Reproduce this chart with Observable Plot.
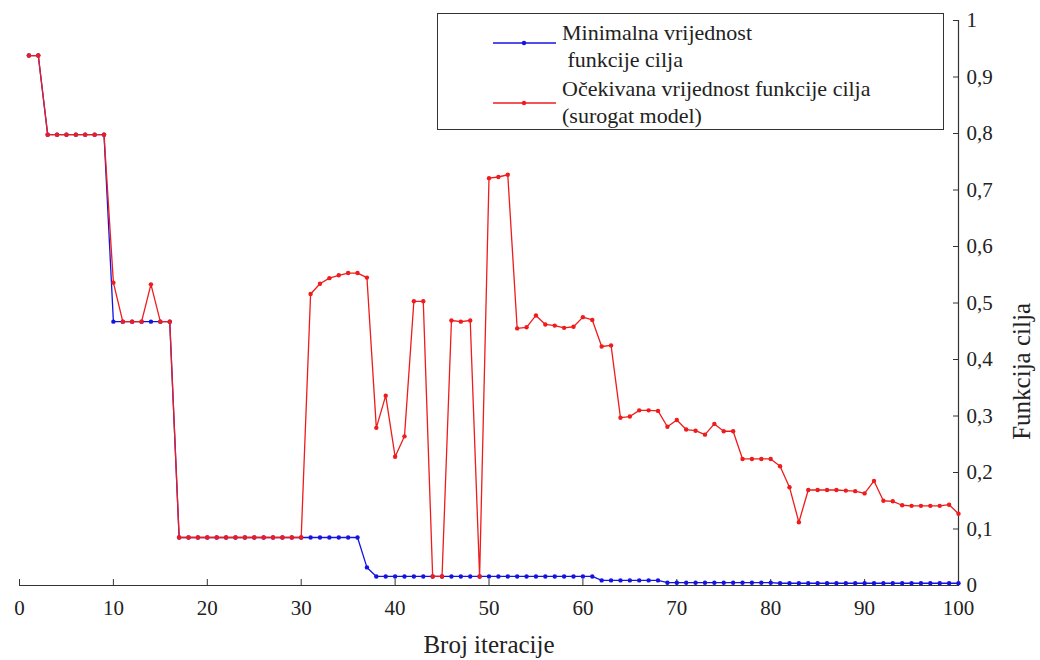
<!DOCTYPE html>
<html>
<head>
<meta charset="utf-8">
<script src="https://cdn.jsdelivr.net/npm/d3@7"></script>
<script src="https://cdn.jsdelivr.net/npm/@observablehq/plot@0.6"></script>
<style>
  html, body { margin: 0; padding: 0; background: #fff; }
  #wrap { position: relative; width: 1040px; height: 660px; font-family: "Liberation Serif", "Times New Roman", serif; }
  #wrap svg, #wrap svg text { font-family: "Liberation Serif", "Times New Roman", serif !important; }
  #legend { position: absolute; left: 437px; top: 13px; width: 507px; height: 117px; border: 1px solid #333; background: #fff; box-sizing: border-box; }
  #legend .t { position: absolute; left: 124px; font-size: 22px; line-height: 26px; white-space: pre; color: #222; font-family: "Liberation Serif", "Times New Roman", serif; }
  #legend svg { position: absolute; left: 0; top: 0; }
</style>
</head>
<body>
<div id="wrap"></div>
<script>
// Iteration numbers
const iterations = [1,2,3,4,5,6,7,8,9,10,11,12,13,14,15,16,17,18,19,20,21,22,23,24,25,26,27,28,29,30,31,32,33,34,35,36,37,38,39,40,41,42,43,44,45,46,47,48,49,50,51,52,53,54,55,56,57,58,59,60,61,62,63,64,65,66,67,68,69,70,71,72,73,74,75,76,77,78,79,80,81,82,83,84,85,86,87,88,89,90,91,92,93,94,95,96,97,98,99,100];

// Minimalna vrijednost funkcije cilja (blue)
const minValues = [
  0.938,0.938,0.798,0.798,0.798,0.798,0.798,0.798,0.798,0.467,
  0.467,0.467,0.467,0.467,0.467,0.467,0.085,0.085,0.085,0.085,
  0.085,0.085,0.085,0.085,0.085,0.085,0.085,0.085,0.085,0.085,
  0.085,0.085,0.085,0.085,0.085,0.085,0.032,0.016,0.016,0.016,
  0.016,0.016,0.016,0.016,0.016,0.016,0.016,0.016,0.016,0.016,
  0.016,0.016,0.016,0.016,0.016,0.016,0.016,0.016,0.016,0.016,
  0.016,0.009,0.009,0.009,0.009,0.009,0.009,0.009,0.005,0.005,
  0.005,0.005,0.005,0.005,0.005,0.005,0.005,0.005,0.005,0.005,
  0.004,0.004,0.004,0.004,0.004,0.004,0.004,0.004,0.004,0.004,
  0.004,0.004,0.004,0.004,0.004,0.004,0.004,0.004,0.004,0.004
];

// Očekivana vrijednost funkcije cilja (surogat model) (red)
const expValues = [
  0.938,0.938,0.798,0.798,0.798,0.798,0.798,0.798,0.798,0.536,
  0.467,0.467,0.467,0.533,0.467,0.467,0.085,0.085,0.085,0.085,
  0.085,0.085,0.085,0.085,0.085,0.085,0.085,0.085,0.085,0.085,
  0.516,0.534,0.544,0.549,0.553,0.553,0.545,0.279,0.336,0.228,
  0.264,0.503,0.503,0.016,0.016,0.469,0.467,0.469,0.016,0.721,
  0.723,0.727,0.455,0.457,0.478,0.462,0.460,0.456,0.458,0.475,
  0.470,0.423,0.425,0.297,0.299,0.310,0.310,0.309,0.281,0.293,
  0.276,0.274,0.267,0.286,0.273,0.273,0.224,0.224,0.224,0.224,
  0.211,0.174,0.112,0.169,0.169,0.169,0.169,0.168,0.167,0.163,
  0.185,0.150,0.149,0.142,0.141,0.141,0.141,0.141,0.143,0.127
];

const xTicks = [0,10,20,30,40,50,60,70,80,90,100];
const yTicks = [0,0.1,0.2,0.3,0.4,0.5,0.6,0.7,0.8,0.9,1];
const yTickLabels = ["0","0,1","0,2","0,3","0,4","0,5","0,6","0,7","0,8","0,9","1"];

const seriesNames = ["Minimalna vrijednost\n funkcije cilja", "Očekivana vrijednost funkcije cilja\n(surogat model)"];
const seriesColors = ["#1414e0", "#ee1c1c"];
const xTitle = "Broj iteracije";
const yTitle = "Funkcija cilja";

const rows = iterations.map((it, i) => ({it, min: minValues[i], exp: expValues[i]}));

const chart = Plot.plot({
  width: 1040,
  height: 660,
  marginLeft: 19,
  marginRight: 82,
  marginTop: 20,
  marginBottom: 75,
  style: {fontFamily: "Liberation Serif", fontSize: "21px", color: "#222", background: "#fff"},
  x: {domain: [0, 100]},
  y: {domain: [0, 1]},
  marks: [
    Plot.ruleY([0], {stroke: "#333", strokeWidth: 1.2}),
    Plot.ruleX([100], {stroke: "#333", strokeWidth: 1.2}),
    Plot.axisX(xTicks, {anchor: "bottom", tickSize: -6, stroke: "#333", text: null, label: null}),
    Plot.axisX(xTicks, {anchor: "bottom", tickSize: 0, tickPadding: 15, tickFormat: d => String(d),
      fontFamily: "Liberation Serif", fontSize: 21,
      label: xTitle, labelAnchor: "center", labelOffset: 67, labelArrow: "none"}),
    Plot.axisY(yTicks, {anchor: "right", tickSize: -6, stroke: "#333", text: null, label: null}),
    Plot.axisY(yTicks, {anchor: "right", tickSize: 0, tickPadding: 8, fontFamily: "Liberation Serif", fontSize: 21,
      tickFormat: d => yTickLabels[yTicks.indexOf(d)], label: null}),
    Plot.line(rows, {x: "it", y: "min", stroke: seriesColors[0], strokeWidth: 1.3}),
    Plot.dot(rows, {x: "it", y: "min", r: 2.2, fill: seriesColors[0], stroke: null}),
    Plot.line(rows, {x: "it", y: "exp", stroke: seriesColors[1], strokeWidth: 1.3}),
    Plot.dot(rows, {x: "it", y: "exp", r: 2.2, fill: seriesColors[1], stroke: null}),
    Plot.text([yTitle], {frameAnchor: "right", rotate: -90, dx: 63, fontSize: 25, fontFamily: "Liberation Serif", fill: "#222"})
  ]
});

// Enlarge x-axis title to match reference
chart.querySelectorAll("text").forEach(t => {
  if (t.textContent === xTitle) t.setAttribute("font-size", 25);
});

const wrap = document.getElementById("wrap");
wrap.appendChild(chart);

// Legend overlay
const legend = document.createElement("div");
legend.id = "legend";
const ns = "http://www.w3.org/2000/svg";
const lsvg = document.createElementNS(ns, "svg");
lsvg.setAttribute("width", 507);
lsvg.setAttribute("height", 117);
const sampleY = [29, 89];
seriesColors.forEach((c, i) => {
  const ln = document.createElementNS(ns, "line");
  ln.setAttribute("x1", 55); ln.setAttribute("x2", 118);
  ln.setAttribute("y1", sampleY[i]); ln.setAttribute("y2", sampleY[i]);
  ln.setAttribute("stroke", c); ln.setAttribute("stroke-width", 1.3);
  lsvg.appendChild(ln);
  const ci = document.createElementNS(ns, "circle");
  ci.setAttribute("cx", 86); ci.setAttribute("cy", sampleY[i]); ci.setAttribute("r", 2.2);
  ci.setAttribute("fill", c);
  lsvg.appendChild(ci);
});
legend.appendChild(lsvg);
const textTops = [6, 33, 62, 89];
const lines = seriesNames.flatMap(s => s.split("\n"));
lines.forEach((s, i) => {
  const d = document.createElement("div");
  d.className = "t";
  d.style.top = textTops[i] + "px";
  d.textContent = s;
  legend.appendChild(d);
});
wrap.appendChild(legend);
</script>
</body>
</html>
